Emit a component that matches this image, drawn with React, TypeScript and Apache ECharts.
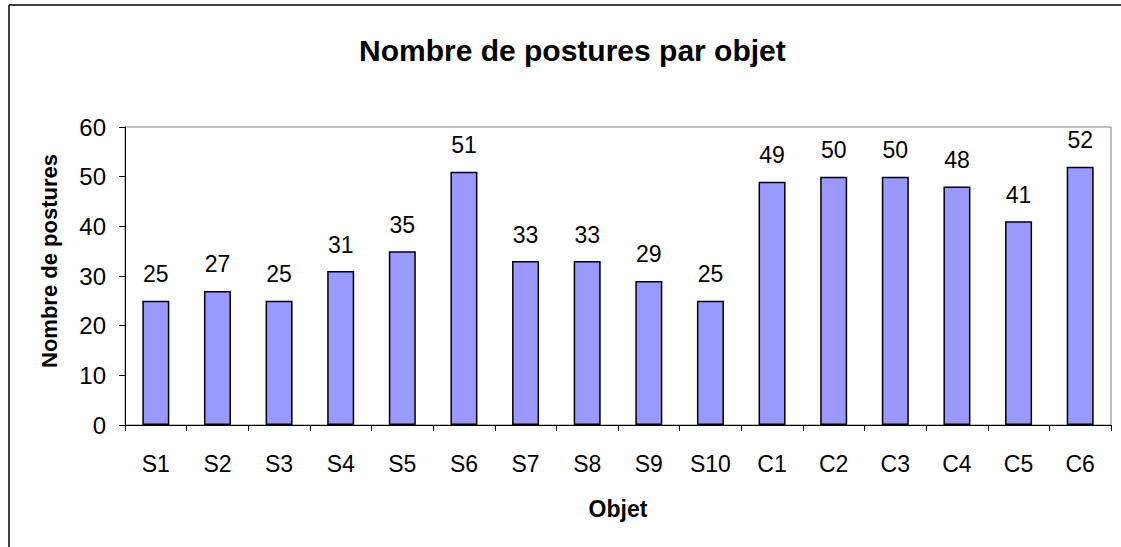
import React, { useEffect, useRef } from "react";
import * as echarts from "echarts";

const categories = ["S1", "S2", "S3", "S4", "S5", "S6", "S7", "S8", "S9", "S10", "C1", "C2", "C3", "C4", "C5", "C6"];
const values = [25, 27, 25, 31, 35, 51, 33, 33, 29, 25, 49, 50, 50, 48, 41, 52];
const titleText = "Nombre de postures par objet";
const xName = "Objet";
const yName = "Nombre de postures";

const FONT = "'Liberation Sans', Arial, sans-serif";

export default function App() {
  const ref = useRef<HTMLDivElement>(null);
  useEffect(() => {
    if (!ref.current) return;
    const chart = echarts.init(ref.current, undefined, { renderer: "svg" });
    chart.setOption({
      animation: false,
      backgroundColor: "#ffffff",
      title: {
        text: titleText,
        left: 354,
        top: 30,
        textStyle: { fontFamily: FONT, fontSize: 30, fontWeight: "bold", color: "#000" },
      },
      grid: {
        left: 125,
        top: 127,
        right: 10,
        bottom: 122,
        show: true,
        borderColor: "#808080",
        borderWidth: 1,
        backgroundColor: "transparent",
      },
      xAxis: {
        type: "category",
        data: categories,
        name: xName,
        nameLocation: "middle",
        nameGap: 72,
        nameTextStyle: { fontFamily: FONT, fontSize: 23, fontWeight: "bold", color: "#000" },
        axisLine: { lineStyle: { color: "#000", width: 1 } },
        axisTick: { show: true, length: 6, lineStyle: { color: "#000" } },
        axisLabel: { fontFamily: FONT, fontSize: 23, color: "#000", margin: 27, interval: 0 },
        splitLine: { show: false },
      },
      yAxis: {
        type: "value",
        min: 0,
        max: 60,
        interval: 10,
        axisLine: { show: true, lineStyle: { color: "#000", width: 1 } },
        axisTick: { show: true, length: 6, lineStyle: { color: "#000" } },
        axisLabel: { fontFamily: FONT, fontSize: 24, color: "#000", margin: 19 },
        splitLine: { show: false },
      },
      graphic: [
        { type: "line", shape: { x1: 9, y1: 5, x2: 1121, y2: 5 }, style: { stroke: "#000", lineWidth: 1.5 } },
        { type: "line", shape: { x1: 9, y1: 5, x2: 9, y2: 547 }, style: { stroke: "#000", lineWidth: 1.5 } },
        {
          type: "text",
          x: 49,
          y: 261,
          rotation: Math.PI / 2,
          style: {
            text: yName,
            fontFamily: FONT,
            fontSize: 22,
            fontWeight: "bold",
            fill: "#000",
            textAlign: "center",
            textVerticalAlign: "middle",
          },
        },
      ],
      series: [
        {
          type: "bar",
          data: values,
          barWidth: 27,
          itemStyle: { color: "#9999ff", borderColor: "#000", borderWidth: 1.5 },
          label: {
            show: true,
            position: "top",
            distance: 15,
            fontFamily: FONT,
            fontSize: 23,
            color: "#000",
          },
        },
      ],
    });
    return () => chart.dispose();
  }, []);
  return <div ref={ref} style={{ position: "fixed", left: 0, top: 0, width: 1121, height: 547 }} />;
}
